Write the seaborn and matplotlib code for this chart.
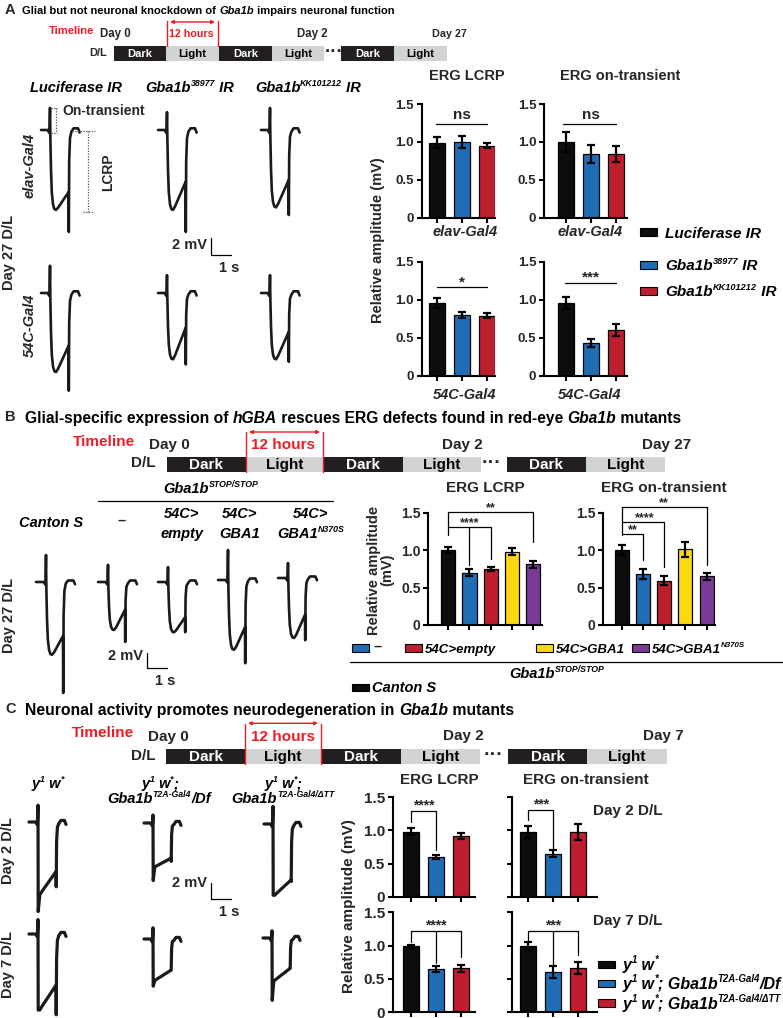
import numpy as np
import pandas as pd
import matplotlib
matplotlib.use("Agg")
import matplotlib.pyplot as plt
from matplotlib.patches import Rectangle
import seaborn as sns

sns.set_theme(style="ticks")
plt.rcParams["font.family"] = ["Liberation Sans", "DejaVu Sans"]
plt.rcParams["font.weight"] = "bold"

W, H = 783, 1018
BLACK, BLUE, RED, YELLOW, PURPLE = "#0d0d0d", "#1f6db5", "#be1e2d", "#fcd90f", "#7a3b96"
DARK, LIGHT, TRED = "#231f20", "#d2d3d5", "#ee1c25"

# ---------------- bar chart data (relative amplitude, mean and SEM) ----------------
a_groups = ["Luciferase IR", "Gba1b 38977 IR", "Gba1b KK101212 IR"]
a_lcrp_elav, a_lcrp_elav_err = [0.99, 1.00, 0.95], [0.07, 0.08, 0.035]
a_on_elav, a_on_elav_err = [1.00, 0.84, 0.84], [0.13, 0.12, 0.10]
a_lcrp_54c, a_lcrp_54c_err = [0.96, 0.80, 0.79], [0.07, 0.045, 0.035]
a_on_54c, a_on_54c_err = [0.96, 0.43, 0.60], [0.08, 0.05, 0.08]

b_groups = ["Canton S", "-", "54C>empty", "54C>GBA1", "54C>GBA1 N370S"]
b_lcrp, b_lcrp_err = [1.00, 0.70, 0.75, 0.98, 0.81], [0.04, 0.045, 0.03, 0.045, 0.05]
b_on, b_on_err = [1.00, 0.68, 0.59, 1.01, 0.65], [0.07, 0.07, 0.06, 0.10, 0.05]

c_groups = ["y1 w*", "y1 w*; Gba1b T2A-Gal4/Df", "y1 w*; Gba1b T2A-Gal4/dTT"]
c_lcrp_d2, c_lcrp_d2_err = [0.98, 0.60, 0.915], [0.05, 0.03, 0.04]
c_on_d2, c_on_d2_err = [0.98, 0.65, 0.97], [0.09, 0.05, 0.12]
c_lcrp_d7, c_lcrp_d7_err = [0.99, 0.65, 0.66], [0.02, 0.04, 0.05]
c_on_d7, c_on_d7_err = [0.99, 0.60, 0.66], [0.06, 0.09, 0.09]

# ---------------- ERG trace amplitudes (mV) ----------------
# rows: elav-Gal4, 54C-Gal4 ; columns: Luciferase, 38977, KK101212
a_tr_on = [[2.6, 2.1, 2.6], [3.2, 2.1, 2.1]]
a_tr_lcrp = [[9.4, 9.4, 9.1], [9.3, 7.8, 7.8]]
a_tr_late = [[7.3, 6.1, 5.9], [6.2, 4.1, 4.6]]
a_tr_off = [[12.0, 12.0, 10.0], [11.5, 8.4, 8.1]]
# Canton S, -, 54C>empty, 54C>GBA1, 54C>GBA1 N370S
b_tr_on = [3.6, 2.3, 2.0, 4.0, 2.0]
b_tr_lcrp = [9.7, 6.4, 6.7, 9.3, 8.0]
b_tr_late = [7.2, 3.7, 4.7, 6.3, 4.9]
b_tr_off = [14.8, 8.0, 6.7, 11.1, 8.3]
# rows: day 2, day 7 ; columns: y1 w*, /Df, /dTT
c_tr_on = [[2.1, 1.0, 2.2], [1.8, 1.4, 0.9]]
c_tr_dip = [[11.2, 7.2, 8.9], [9.5, 5.9, 7.8]]
c_tr_lcrp = [[9.1, 5.5, 8.9], [9.5, 5.2, 5.4]]
c_tr_late = [[6.2, 4.4, 7.0], [6.4, 3.9, 3.8]]
c_tr_off = [[8.1, 4.8, 7.2], [10.1, 3.9, 3.8]]

# ---------------- figure / helpers ----------------
fig = plt.figure(figsize=(W / 100, H / 100), dpi=100)
canvas = fig.add_axes([0, 0, 1, 1])
canvas.set_xlim(0, W)
canvas.set_ylim(H, 0)
canvas.axis("off")
R = fig.canvas.get_renderer()


def px_axes(x0, y0, x1, y1):
    return fig.add_axes([x0 / W, 1 - y1 / H, (x1 - x0) / W, (y1 - y0) / H])


def txt(x, y, s, size=10, ha="center", va="center", fit=None, **kw):
    t = canvas.text(x, y, s, fontsize=size, ha=ha, va=va, fontweight="bold", **kw)
    if fit:
        w = t.get_window_extent(R).width
        t.set_fontsize(size * fit / w)
    return t


def rich(x, y, parts, size=10.5, ha="left", color="black", fit=None):
    # parts: (text, kind) with kind n = upright, i = italic, s = italic superscript
    items = []
    for s, kind in parts:
        fs = size * 0.6 if kind == "s" else size
        t = canvas.text(0, 0, s, fontsize=fs, fontweight="bold", color=color, va="baseline", ha="left",
                        fontstyle="normal" if kind == "n" else "italic")
        items.append([t, fs, kind])
    widths = [t.get_window_extent(R).width for t, _, _ in items]
    if fit:
        k = fit / sum(widths)
        size *= k
        for it in items:
            it[0].set_fontsize(it[1] * k)
        widths = [t.get_window_extent(R).width for t, _, _ in items]
    total = sum(widths)
    cx = x - total / 2 if ha == "center" else (x - total if ha == "right" else x)
    yb = y + 0.5 * size
    for (t, _, kind), w in zip(items, widths):
        t.set_position((cx, yb - size * 0.62 if kind == "s" else yb))
        cx += w


def timeline(segs, y0, y1, dots, fs, red_x, red_top, arrow_y, red_bottom, fitw=(None, None)):
    labels = ["Dark", "Light"] * 3
    for (a, b), lab in zip(segs, labels):
        canvas.add_patch(Rectangle((a, y0), b - a, y1 - y0, color=DARK if lab == "Dark" else LIGHT, lw=0))
        txt((a + b) / 2, (y0 + y1) / 2 + 0.5, lab, size=fs, color="white" if lab == "Dark" else "black",
            fit=fitw[0] if lab == "Dark" else fitw[1])
    canvas.text(dots, (y0 + y1) / 2 - 1, "\u00b7\u00b7\u00b7", ha="center", va="center", fontsize=fs + 3,
                fontweight="bold")
    for x in red_x:
        canvas.plot([x, x], [red_top, red_bottom], color=TRED, lw=1.0)
    canvas.annotate("", xy=(red_x[1] - 3, arrow_y), xytext=(red_x[0] + 3, arrow_y),
                    arrowprops=dict(arrowstyle="<|-|>", color=TRED, lw=1.0, mutation_scale=5,
                                    shrinkA=0, shrinkB=0))


def erg(x0, yb, on, lcrp, late, off, dur, mvpx, dip=None, pre=0.45, post=0.55, lw=1.8):
    if dip is None:
        t = [-pre, -0.12, -0.03, 0.0, 0.02, 0.05, 0.09, 0.15, 0.22, 0.3, 0.4]
        v = [0, 0, -0.35, on, -0.12 * lcrp, -0.5 * lcrp, -0.78 * lcrp, -0.93 * lcrp, -0.99 * lcrp,
             -lcrp, -lcrp + 0.12 * (lcrp - late)]
    else:
        t = [-pre, -0.12, -0.03, 0.0, 0.01, 0.09, 0.2]
        v = [0, 0, -0.35, on, -dip, -lcrp, -lcrp + 0.15 * (lcrp - late)]
    t += [dur, dur + 0.01, dur + 0.03, dur + 0.07, dur + 0.14, dur + 0.25, dur + post - 0.08, dur + post]
    v += [-late, -off, -0.3 * off, -0.08 * off, -0.2, 0.2, 0.2, -0.3]
    xs = x0 + np.array(t) * 20
    ys = yb - np.array(v) * mvpx
    canvas.plot(xs, ys, color="#1a1a1a", lw=lw, solid_joinstyle="round", solid_capstyle="round")


def bar_chart(box, xlim, names, means, errs, colors, width, labels=True, fs=9.5):
    ax = px_axes(*box)
    df = pd.DataFrame({"group": names, "value": means})
    sns.barplot(data=df, x="group", y="value", hue="group", palette=dict(zip(names, colors)),
                width=width, edgecolor="black", linewidth=0.9, saturation=1, legend=False, ax=ax)
    ax.errorbar(np.arange(len(means)), means, yerr=errs, fmt="none", ecolor="black",
                elinewidth=1.6, capsize=3, capthick=1.6, zorder=5)
    ax.set_xlim(xlim)
    ax.set_ylim(0, 1.5)
    ax.set_yticks([0, 0.5, 1.0, 1.5])
    ax.set_yticklabels(["0", "0.5", "1.0", "1.5"] if labels else [])
    ax.set_xticks(range(len(means)))
    ax.set_xticklabels([])
    ax.set_xlabel("")
    ax.set_ylabel("")
    ax.set_facecolor("none")
    sns.despine(ax=ax)
    for s in ["left", "bottom"]:
        ax.spines[s].set_linewidth(1.5)
        ax.spines[s].set_color("black")
    ax.tick_params(direction="out", length=3.5, width=1.5, labelsize=fs, pad=2, color="black")
    for lab in ax.get_yticklabels():
        lab.set_fontweight("bold")
    return ax


def bracket(ax, x0, x1, y, legs, text, tx, fs, scale, star=True):
    ax.plot([x0, x1], [y, y], color="black", lw=0.9, clip_on=False)
    for x, yb in legs:
        ax.plot([x, x], [yb, y], color="black", lw=0.9, clip_on=False)
    if star:
        ax.text(tx, y + 1.0 / scale, text, ha="center", va="baseline", fontsize=fs, fontweight="bold",
                clip_on=False)
    else:
        ax.text(tx, y + 2.0 / scale, text, ha="center", va="bottom", fontsize=fs, fontweight="bold",
                clip_on=False)


# ====================== PANEL A ======================
txt(5, 10, "A", size=10.5, ha="left")
rich(22, 10, [("Glial but not neuronal knockdown of ", "n"), ("Gba1b", "i"), (" impairs neuronal function", "n")],
     size=10, fit=372)

txt(72, 31, "Timeline", size=11, color=TRED, fit=46)
txt(115, 34, "Day 0", size=10.5, fit=31)
txt(191, 34, "12 hours", size=11, color=TRED, fit=45)
txt(312, 34, "Day 2", size=10.5, fit=31)
txt(449, 34, "Day 27", size=10.5, fit=35)
txt(98, 53, "D/L", size=10.5, fit=18)
timeline([(114, 166), (166, 219), (219, 272), (272, 324), (341, 394), (394, 447)], 46, 61, 334,
         10.5, (167, 218), 21, 22, 46, fitw=(25, 28))

rich(76, 87, [("Luciferase IR", "i")], size=10.5, ha="center")
rich(190, 87, [("Gba1b", "i"), ("38977", "s"), (" IR", "i")], size=10.5, ha="center")
rich(308, 87, [("Gba1b", "i"), ("KK101212", "s"), (" IR", "i")], size=10.5, ha="center")

a_spike_x = [50, 167, 270]
a_base_y = [130, 293]
for r in range(2):
    for c in range(3):
        erg(a_spike_x[c], a_base_y[r], a_tr_on[r][c], a_tr_lcrp[r][c], a_tr_late[r][c], a_tr_off[r][c],
            0.93, 8.5, pre=0.45, post=0.55, lw=1.9)

# measurement guides
dot = dict(color="#555555", lw=0.9, ls=(0, (1, 1.2)))
canvas.plot([51, 57], [108, 108], **dot)
canvas.plot([56, 56], [108, 133], **dot)
canvas.plot([51, 57], [133, 133], **dot)
canvas.plot([72, 95], [131, 131], **dot)
canvas.plot([88, 88], [131, 212], **dot)
canvas.plot([83, 94], [212, 212], **dot)
txt(62, 111, "On-transient", size=10, ha="left")
txt(108, 172, "LCRP", size=10, rotation=90)
txt(30, 165, "elav-Gal4", size=10.5, rotation=90, style="italic")
txt(30, 325, "54C-Gal4", size=10.5, rotation=90, style="italic")
txt(9, 252, "Day 27 D/L", size=10.5, rotation=90)

canvas.plot([211, 211, 231], [238, 255, 255], color="black", lw=0.9)
txt(207, 245, "2 mV", size=10.5, ha="right")
txt(229, 268, "1 s", size=10.5)

a_cols = [BLACK, BLUE, RED]
ax = bar_chart((421.7, 104, 495, 217.7), (-0.62, 2.32), a_groups, a_lcrp_elav, a_lcrp_elav_err, a_cols, 0.65)
bracket(ax, -0.05, 2.0, 1.236, [], "ns", 1.0, 11, 75.8, star=False)
ax = bar_chart((544, 104, 626.7, 217.7), (-0.88, 2.43), a_groups, a_on_elav, a_on_elav_err, a_cols, 0.65)
bracket(ax, -0.1, 2.0, 1.236, [], "ns", 1.0, 11, 75.8, star=False)
ax = bar_chart((421.7, 261.7, 495, 376), (-0.62, 2.32), a_groups, a_lcrp_54c, a_lcrp_54c_err, a_cols, 0.65)
bracket(ax, 0, 2.0, 1.164, [], "*", 1.0, 11, 76.2)
ax = bar_chart((544, 261.7, 626.7, 376), (-0.88, 2.43), a_groups, a_on_54c, a_on_54c_err, a_cols, 0.65)
bracket(ax, -0.05, 2.0, 1.224, [], "***", 1.0, 11, 76.2)

txt(467, 76, "ERG LCRP", size=10.5)
txt(620, 76, "ERG on-transient", size=10.5)
txt(465, 232, "elav-Gal4", size=10.5, style="italic")
txt(590, 232, "elav-Gal4", size=10.5, style="italic")
txt(465, 395, "54C-Gal4", size=10.5, style="italic")
txt(590, 395, "54C-Gal4", size=10.5, style="italic")
txt(378, 240, "Relative amplitude (mV)", size=10.5, rotation=90)

for yy, col in zip([232, 265, 291], a_cols):
    canvas.add_patch(Rectangle((640, yy - 4), 17, 8, facecolor=col, edgecolor="black", lw=0.8))
rich(665, 232, [("Luciferase IR", "i")], size=11)
rich(665, 265, [("Gba1b", "i"), ("38977", "s"), (" IR", "i")], size=11)
rich(665, 291, [("Gba1b", "i"), ("KK101212", "s"), (" IR", "i")], size=11)

# ====================== PANEL B ======================
txt(5, 417, "B", size=10.5, ha="left")
rich(25, 417, [("Glial-specific expression of ", "n"), ("hGBA", "i"),
               (" rescues ERG defects found in red-eye ", "n"), ("Gba1b", "i"), (" mutants", "n")],
     size=10.5, fit=663)

txt(104, 442, "Timeline", size=11, color=TRED)
txt(169, 445, "Day 0", size=11)
txt(283, 445, "12 hours", size=11, color=TRED)
txt(462, 445, "Day 2", size=11)
txt(667, 445, "Day 27", size=11)
txt(143, 463, "D/L", size=11)
timeline([(167, 246), (246, 323), (323, 403), (403, 481), (507, 586), (586, 665)], 456.7, 471.7, 492,
         11, (246, 323), 431.7, 432, 471.7)

rich(211, 488, [("Gba1b", "i"), ("STOP/STOP", "s")], size=10.5, ha="center")
canvas.plot([98, 333], [500.7, 500.7], color="black", lw=0.9)
rich(51, 522, [("Canton S", "i")], size=10.5, ha="center")
txt(122, 521, "\u2013", size=10.5)
rich(182, 513, [("54C>", "i")], size=10.5, ha="center")
rich(182, 533, [("empty", "i")], size=10.5, ha="center")
rich(240, 513, [("54C>", "i")], size=10.5, ha="center")
rich(240, 533, [("GBA1", "i")], size=10.5, ha="center")
rich(311, 513, [("54C>", "i")], size=10.5, ha="center")
rich(311, 533, [("GBA1", "i"), ("N370S", "s")], size=10.5, ha="center")

b_spike_x = [46, 108, 168, 228, 288]
b_base_y = [582, 582, 582, 580, 578]
for i in range(5):
    erg(b_spike_x[i], b_base_y[i], b_tr_on[i], b_tr_lcrp[i], b_tr_late[i], b_tr_off[i], 0.85, 7.5,
        pre=0.5, post=0.6, lw=1.9)
txt(9, 615, "Day 27 D/L", size=10.5, rotation=90)
canvas.plot([147, 147, 167], [653, 668, 668], color="black", lw=0.9)
txt(143, 656, "2 mV", size=10.5, ha="right")
txt(165, 681, "1 s", size=10.5)

b_cols = [BLACK, BLUE, RED, YELLOW, PURPLE]
ax = bar_chart((428.3, 512.7, 541.7, 625), (-0.94, 4.4), b_groups, b_lcrp, b_lcrp_err, b_cols, 0.66, fs=10)
bracket(ax, 0, 4, 1.503, [(0, 1.2), (4, 1.11)], "**", 2.0, 9, 74.9)
bracket(ax, 0, 2, 1.312, [(1, 0.80), (2, 0.88)], "****", 1.0, 9, 74.9)
ax = bar_chart((603.3, 512.7, 715, 625), (-0.87, 4.4), b_groups, b_on, b_on_err, b_cols, 0.66, fs=10)
bracket(ax, 0, 4, 1.571, [(0, 1.2), (4, 0.80)], "**", 2.0, 9, 74.9)
bracket(ax, 0, 2, 1.379, [(2, 0.78)], "****", 1.1, 9, 74.9)
bracket(ax, 0, 1, 1.21, [(1, 0.87)], "**", 0.5, 9, 74.9)
txt(485, 488, "ERG LCRP", size=11)
txt(664, 488, "ERG on-transient", size=11)
txt(381, 570, "Relative amplitude\n(mV)", size=10.5, rotation=90, linespacing=0.95)

for x, col in zip([352, 405, 536, 632], [BLUE, RED, YELLOW, PURPLE]):
    canvas.add_patch(Rectangle((x, 644), 17, 7.5, facecolor=col, edgecolor="black", lw=0.8))
txt(373, 647, "\u2013", size=10.5, ha="left")
rich(425, 648, [("54C>empty", "i")], size=9.5)
rich(556, 648, [("54C>GBA1", "i")], size=9.5)
rich(652, 648, [("54C>GBA1", "i"), ("N370S", "s")], size=9.5)
canvas.plot([350, 783], [661.7, 661.7], color="black", lw=0.9)
rich(557, 673, [("Gba1b", "i"), ("STOP/STOP", "s")], size=10.5, ha="center")
canvas.add_patch(Rectangle((352, 683.5), 17, 7.5, facecolor=BLACK, edgecolor="black", lw=0.8))
rich(372, 687, [("Canton S", "i")], size=10.5)

# ====================== PANEL C ======================
txt(5, 709, "C", size=10.5, ha="left")
rich(25, 709, [("Neuronal activity promotes neurodegeneration in ", "n"), ("Gba1b", "i"), (" mutants", "n")],
     size=10.5, fit=489)

txt(103, 733, "Timeline", size=11, color=TRED)
txt(168, 737, "Day 0", size=11)
txt(283, 737, "12 hours", size=11, color=TRED)
txt(463, 736, "Day 2", size=11)
txt(663, 736, "Day 7", size=11)
txt(143, 756, "D/L", size=11)
timeline([(166, 245), (245, 321), (321, 401), (401, 480), (508, 587), (587, 667)], 749, 764, 494,
         11, (245, 321), 724, 723.3, 764)

rich(48, 783, [("y", "i"), ("1", "s"), (" w", "i"), ("*", "s")], size=10.5, ha="center")
rich(160, 783, [("y", "i"), ("1", "s"), (" w", "i"), ("*", "s"), (";", "i")], size=10.5, ha="center")
rich(159, 798, [("Gba1b", "i"), ("T2A-Gal4", "s"), ("/Df", "i")], size=10.5, ha="center")
rich(283, 783, [("y", "i"), ("1", "s"), (" w", "i"), ("*", "s"), (";", "i")], size=10.5, ha="center")
rich(283, 798, [("Gba1b", "i"), ("T2A-Gal4/\u0394TT", "s")], size=10.5, ha="center")

c_spike_x = [[38, 153, 273], [38, 153, 272]]
c_base_y = [[822, 823, 824], [934, 939, 938]]
for r in range(2):
    for c in range(3):
        erg(c_spike_x[r][c], c_base_y[r][c], c_tr_on[r][c], c_tr_lcrp[r][c], c_tr_late[r][c], c_tr_off[r][c],
            0.9, 8.0, dip=c_tr_dip[r][c], pre=0.45, post=0.5, lw=2.3)
txt(8, 850, "Day 2 D/L", size=10.5, rotation=90)
txt(8, 965, "Day 7 D/L", size=10.5, rotation=90)
canvas.plot([211, 211, 231], [883, 899, 899], color="black", lw=0.9)
txt(207, 883, "2 mV", size=10.5, ha="right")
txt(229, 912, "1 s", size=10.5)

c_cols = [BLACK, BLUE, RED]
ax = bar_chart((392.7, 797.3, 475, 896.7), (-0.73, 2.56), c_groups, c_lcrp_d2, c_lcrp_d2_err, c_cols, 0.63, fs=11)
bracket(ax, 0, 1, 1.297, [(0, 1.13), (1, 0.70)], "****", 0.5, 10, 66.3)
ax = bar_chart((511.7, 797.3, 596.7, 896.7), (-0.66, 2.73), c_groups, c_on_d2, c_on_d2_err, c_cols, 0.63,
               labels=False, fs=11)
bracket(ax, 0, 1, 1.31, [(0, 1.16), (1, 0.73)], "***", 0.5, 10, 66.3)
ax = bar_chart((392.7, 912.3, 475, 1012.3), (-0.73, 2.56), c_groups, c_lcrp_d7, c_lcrp_d7_err, c_cols, 0.63,
               fs=11)
bracket(ax, 0, 2, 1.224, [(0, 1.06), (1, 0.74), (2, 0.83)], "****", 1.0, 10, 66.7)
ax = bar_chart((511.7, 912.3, 596.7, 1012.3), (-0.66, 2.73), c_groups, c_on_d7, c_on_d7_err, c_cols, 0.63,
               labels=False, fs=11)
bracket(ax, 0, 2, 1.224, [(0, 1.07), (1, 0.71), (2, 0.86)], "***", 1.0, 10, 66.7)

txt(439, 780, "ERG LCRP", size=11)
txt(586, 780, "ERG on-transient", size=11)
txt(593, 811, "Day 2 D/L", size=11, ha="left")
txt(593, 921, "Day 7 D/L", size=11, ha="left")
txt(349, 906, "Relative amplitude (mV)", size=11, rotation=90)

for yy, col in zip([964, 983.3, 1002.7], c_cols):
    canvas.add_patch(Rectangle((598, yy - 3.5), 17, 7.5, facecolor=col, edgecolor="black", lw=0.8))
rich(623, 964, [("y", "i"), ("1", "s"), (" w", "i"), ("*", "s")], size=11.5)
rich(623, 983, [("y", "i"), ("1", "s"), (" w", "i"), ("*", "s"), ("; Gba1b", "i"), ("T2A-Gal4", "s"),
                ("/Df", "i")], size=11.5)
rich(623, 1003, [("y", "i"), ("1", "s"), (" w", "i"), ("*", "s"), ("; Gba1b", "i"), ("T2A-Gal4/\u0394TT", "s")],
     size=11.5)

fig.savefig("out.png", dpi=100)
